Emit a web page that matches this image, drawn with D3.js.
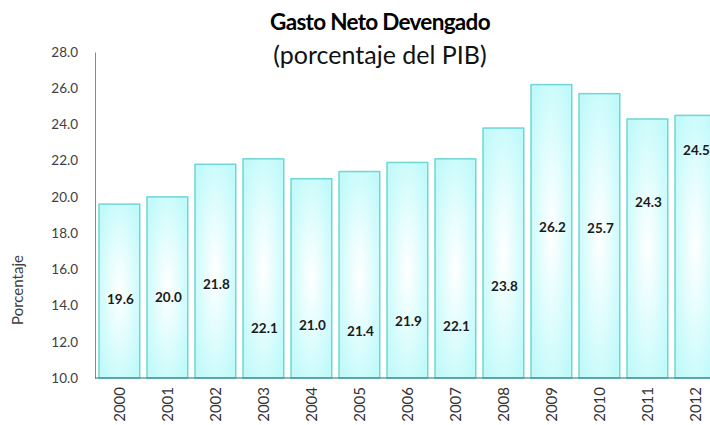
<!DOCTYPE html>
<html lang="es">
<head>
  <meta charset="UTF-8" />
  <title>Gasto Neto Devengado</title>
  <script src="https://d3js.org/d3.v7.min.js"></script>
  <style>
    body { margin: 0; background: #fff; font-family: Lato, "Open Sans", sans-serif; }
    svg { display: block; }
  </style>
</head>
<body>
  <svg width="710" height="425"></svg>
  <script>
    const years = ["2000","2001","2002","2003","2004","2005","2006","2007","2008","2009","2010","2011","2012"];
    const gasto = [19.6, 20.0, 21.8, 22.1, 21.0, 21.4, 21.9, 22.1, 23.8, 26.2, 25.7, 24.3, 24.5];
    // where Excel left each data label, in axis units
    const labelLevel = [14.36, 14.43, 15.19, 12.76, 12.89, 12.56, 13.11, 12.87, 15.04, 18.34, 18.28, 19.68, 22.59];
    const yTicks = [10, 12, 14, 16, 18, 20, 22, 24, 26, 28];

    const svg = d3.select("svg");
    const plotLeft = 95, plotTop = 52, plotBottom = 378;

    const x = d3.scaleBand()
      .domain(years)
      .range([95.2, 719.6])
      .paddingInner(0.152)
      .paddingOuter(0.08);

    const y = d3.scaleLinear().domain([10, 28]).range([plotBottom, plotTop]);

    const defs = svg.append("defs");
    const grad = defs.append("radialGradient")
      .attr("id", "barFill")
      .attr("cx", "50%").attr("cy", "50%").attr("r", "60%");
    grad.append("stop").attr("offset", "0%").attr("stop-color", "#ffffff");
    grad.append("stop").attr("offset", "45%").attr("stop-color", "#e4fdfd");
    grad.append("stop").attr("offset", "100%").attr("stop-color", "#c2fafa");

    // title
    svg.append("text")
      .attr("x", 380).attr("y", 30)
      .attr("text-anchor", "middle")
      .style("font-size", "22.5px").style("font-weight", "bold").style("fill", "#000")
      .style("letter-spacing", "-0.7px")
      .text("Gasto Neto Devengado");
    svg.append("text")
      .attr("x", 380).attr("y", 64)
      .attr("text-anchor", "middle")
      .style("font-size", "25px").style("fill", "#111")
      .text("(porcentaje del PIB)");

    // y axis
    const yAxis = svg.append("g")
      .attr("transform", `translate(${plotLeft},0)`)
      .call(d3.axisLeft(y).tickValues(yTicks).tickFormat(d3.format(".1f")).tickSize(0).tickPadding(17));
    yAxis.select(".domain").attr("stroke", "#888").attr("stroke-width", 1);
    yAxis.selectAll("text")
      .style("font-family", "Lato, 'Open Sans', sans-serif")
      .style("font-size", "13.5px").style("fill", "#404040");

    svg.append("text")
      .attr("transform", "translate(23,290) rotate(-90)")
      .attr("text-anchor", "middle")
      .style("font-size", "15px").style("fill", "#404040")
      .text("Porcentaje");

    // bars
    svg.append("g")
      .selectAll("rect")
      .data(years)
      .join("rect")
      .attr("x", d => x(d))
      .attr("y", (d, i) => y(gasto[i]))
      .attr("width", x.bandwidth())
      .attr("height", (d, i) => y(10) - y(gasto[i]))
      .attr("fill", "url(#barFill)")
      .attr("stroke", "#6ed6d6")
      .attr("stroke-width", 1.5);

    // x axis
    const xAxis = svg.append("g")
      .attr("transform", `translate(0,${plotBottom})`)
      .call(d3.axisBottom(x).tickSize(0).tickPadding(0));
    xAxis.select(".domain").attr("stroke", "#2f6f6f").attr("stroke-width", 1.2)
      .attr("d", `M${plotLeft},0H710`);
    xAxis.selectAll("text")
      .attr("transform", "rotate(-90)")
      .attr("x", -9).attr("y", 0).attr("dy", "0.35em")
      .attr("text-anchor", "end")
      .style("font-family", "Lato, 'Open Sans', sans-serif")
      .style("font-size", "15px").style("fill", "#333");

    // data labels
    svg.append("g")
      .selectAll("text")
      .data(years)
      .join("text")
      .attr("x", d => x(d) + x.bandwidth() / 2 + 1)
      .attr("y", (d, i) => y(labelLevel[i]))
      .attr("dy", "0.35em")
      .attr("text-anchor", "middle")
      .style("font-size", "13.5px").style("font-weight", "bold").style("fill", "#1a1a1a")
      .text((d, i) => d3.format(".1f")(gasto[i]));
  </script>
</body>
</html>
